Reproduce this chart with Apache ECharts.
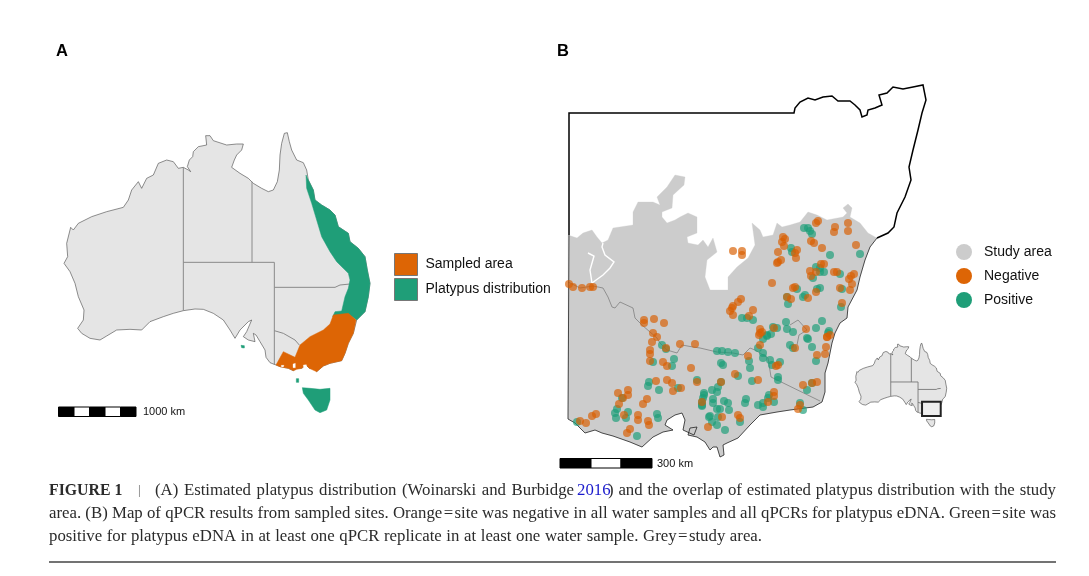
<!DOCTYPE html>
<html>
<head>
<meta charset="utf-8">
<script src="https://cdn.jsdelivr.net/npm/echarts@6/dist/echarts.min.js"></script>
<style>
  html, body { margin: 0; padding: 0; background: #fff; }
  #chart { width: 1089px; height: 576px; }
</style>
</head>
<body>
<div id="chart"></div>
<script>
// panel A outlines, map units (0-1110 across, 0-930 down)
const australiaCoast = [[430,142],[445,150],[452,155],[442,140],[448,120],[458,110],[460,95],[475,80],[500,75],[497,47],[510,47],[520,62],[560,75],[590,72],[610,72],[605,90],[590,105],[583,120],[575,142],[600,160],[625,175],[640,190],[665,205],[685,215],[700,210],[712,185],[718,150],[720,105],[725,70],[733,40],[742,38],[748,65],[755,90],[770,120],[790,128],[800,150],[805,180],[820,210],[825,240],[845,255],[870,270],[885,285],[895,320],[925,340],[930,365],[955,385],[975,410],[982,450],[990,490],[985,530],[975,575],[950,600],[940,640],[925,670],[915,700],[905,722],[870,730],[850,738],[830,755],[825,745],[808,745],[798,735],[785,745],[770,745],[760,752],[745,745],[720,740],[708,735],[690,728],[678,712],[675,690],[660,665],[648,645],[640,640],[645,665],[625,660],[610,650],[620,635],[635,600],[625,605],[600,630],[585,655],[570,630],[550,600],[520,580],[490,568],[465,567],[430,572],[400,580],[370,590],[330,605],[305,630],[270,628],[230,630],[200,648],[180,660],[150,655],[125,640],[113,625],[130,600],[132,570],[115,530],[105,490],[90,455],[72,430],[83,410],[80,370],[92,322],[100,330],[115,310],[155,290],[200,275],[250,262],[265,240],[275,210],[295,185],[305,205],[320,175],[340,165],[355,130],[380,120],[400,125],[415,145]];
const tasmania = [[787,803],[810,805],[840,808],[870,805],[870,840],[860,870],[840,878],[825,870],[805,840],[790,820]];
const stateBorders = [
  [[430,142],[430,572]],
  [[636,185],[636,427]],
  [[430,427],[703,427],[703,735]],
  [[703,502],[885,502],[900,495],[930,492]],
  [[703,632],[730,640],[765,660],[778,675]]
];
const platypusMainland = [[798,165],[805,180],[820,210],[825,240],[845,255],[870,270],[885,285],[895,320],[925,340],[930,365],[955,385],[975,410],[982,450],[990,490],[985,530],[975,575],[950,600],[925,582],[900,585],[878,590],[885,575],[905,573],[915,530],[925,505],[930,480],[925,460],[890,425],[870,395],[845,350],[830,300],[815,250],[800,205]];
const kingIsland = [[769,776],[776,776],[776,787],[769,787]];
const kangarooIsland = [[603,676],[613,677],[613,684],[605,683]];
const sampledArea = [[880,585],[925,580],[948,600],[940,640],[925,670],[915,700],[905,722],[870,730],[850,738],[830,755],[808,745],[798,735],[785,745],[770,748],[760,752],[745,745],[720,740],[708,735],[730,695],[765,712],[780,675],[810,650],[850,630],[870,612]];
const sampledHoles = [
  [[724,736],[732,736],[730,741],[724,740]],
  [[759,732],[766,730],[766,743],[759,743]],
  [[790,735],[799,734],[800,742],[791,743]]
];
const insetBox = [[743,625],[930,625],[930,769],[743,769]];

// panel B outlines, page units
const studyTopEdge = [[568,235],[577,238],[583,233],[592,230],[597,237],[602,243],[608,240],[613,228],[633,225],[633,212],[638,202],[653,202],[660,205],[657,197],[667,187],[675,175],[685,177],[684,185],[673,195],[672,208],[662,212],[662,217],[667,223],[675,220],[680,217],[688,213],[697,217],[697,233],[687,237],[688,243],[698,245],[703,240],[708,247],[713,238],[717,252],[707,260],[705,277],[710,290],[728,290],[728,277],[737,267],[748,258],[755,245],[752,223],[760,230],[763,237],[773,235],[777,223],[782,227],[790,225],[800,222],[808,212],[817,215],[827,220],[843,217],[847,213],[843,208],[848,204],[852,208],[850,217],[860,223],[868,233],[875,237]];
const southCoast = [[877,238],[870,247],[865,260],[860,277],[857,290],[848,307],[847,318],[840,323],[835,333],[832,343],[828,363],[825,373],[825,392],[822,402],[813,407],[790,410],[777,412],[760,415],[750,425],[738,438],[727,443],[723,445],[724,455],[720,457],[717,447],[713,447],[710,450],[705,442],[697,437],[688,435],[690,428],[697,427],[694,435],[683,430],[685,420],[682,413],[675,415],[667,420],[665,425],[673,430],[663,432],[653,437],[642,447],[630,442],[613,436],[602,433],[595,430],[585,433],[580,428],[575,423],[568,419]];
const northBoundary = [[569,235],[569,113],[794,113],[795,108],[800,102],[808,98],[815,100],[823,97],[832,96],[838,101],[850,101],[855,105],[860,110],[862,117],[867,115],[868,110],[875,108],[882,105],[879,95],[887,93],[893,87],[903,89],[913,87],[923,85],[926,100],[922,113],[918,130],[913,150],[909,167],[911,180],[905,197],[897,213],[894,227],[888,233],[877,238]];
const westBoundary = [[569,235],[568,419]];
const riverGaps = [
  [[588,253],[594,256],[590,270],[592,283]],
  [[592,283],[603,275],[610,268],[614,262],[605,255],[602,247],[603,243]]
];
const innerBorders = [
  [[568,282],[580,288],[593,286],[603,288],[608,297],[612,307],[615,308],[620,302],[633,308],[635,318],[642,325],[650,332],[657,338],[660,343],[667,350],[677,353],[682,345],[693,347],[700,348],[717,352],[733,353],[743,355],[750,348],[755,350],[768,358],[771,377],[820,401]],
  [[790,325],[798,320],[807,330],[799,335],[797,345]]
];

const negativeSites = [[569,284],[573,287],[582,288],[590,287],[593,287],[644,320],[644,323],[654,319],[664,323],[653,333],[657,337],
  [816,223],[818,221],[835,227],[834,232],[848,223],[848,231],[856,245],[733,251],[742,251],[742,255],[783,237],[785,239],[782,242],[784,246],[778,252],[797,250],[795,253],[796,258],[781,260],[778,262],[777,263],[811,241],[814,243],[822,248],[821,264],[824,264],[810,271],[816,272],[811,276],[834,272],[837,272],[772,283],[795,287],[793,288],[840,288],[854,274],[851,276],[849,279],[852,284],[850,290],[816,292],[787,297],[791,299],[808,298],[842,303],[741,299],[738,302],[733,306],[732,308],[730,311],[733,315],[753,310],[749,316],[760,329],[762,332],[759,335],[774,328],[806,329],[827,337],[830,335],
  [652,342],[666,348],[680,344],[695,344],[650,350],[650,354],[650,361],[663,362],[667,366],[691,368],[656,381],[667,380],[672,383],[697,382],[681,388],[673,391],[628,390],[618,393],[628,395],[623,398],[619,404],[647,399],[643,404],[596,414],[592,416],[580,421],[586,423],[624,415],[638,415],[638,420],[648,421],[649,425],[630,429],[627,433],[708,427],
  [760,333],[760,345],[748,356],[778,365],[776,366],[758,380],[735,374],[721,382],[702,402],[722,417],[738,415],[740,418],[774,392],[774,396],[768,402],[803,385],[812,383],[817,382],[800,405],[798,409],[795,348],[827,337],[826,347],[825,354],[817,355]];
const positiveSites = [[804,228],[808,228],[810,231],[812,234],[791,248],[792,252],[830,255],[860,254],[816,267],[820,268],[820,272],[824,272],[813,278],[840,274],[797,289],[817,289],[820,288],[842,289],[805,295],[803,297],[787,297],[788,304],[841,307],[742,318],[747,318],[753,320],[786,322],[773,327],[777,328],[787,329],[793,332],[822,321],[816,328],[829,331],[767,336],[771,334],[807,338],
  [662,345],[666,349],[674,359],[672,366],[653,362],[649,382],[648,386],[659,390],[678,388],[697,380],[704,393],[702,402],[702,406],[622,398],[617,409],[615,413],[628,412],[616,418],[626,418],[657,414],[658,418],[577,422],[637,436],[709,417],
  [717,351],[722,351],[728,352],[735,353],[721,363],[723,365],[749,361],[750,368],[758,348],[763,353],[763,358],[770,360],[772,365],[780,362],[778,377],[778,380],[752,381],[738,376],[721,382],[718,387],[712,390],[717,392],[704,395],[703,398],[702,405],[713,399],[713,403],[724,401],[728,403],[746,399],[745,403],[729,410],[717,409],[720,409],[710,416],[712,422],[717,425],[718,417],[725,430],[740,422],[769,395],[768,398],[774,402],[763,403],[758,405],[763,407],[800,403],[803,410],[807,390],[812,383],[816,361],[767,335],[763,339],[793,348],[790,345],[808,339],[812,347],[828,333]];

const legendAreaNames = ['Sampled area', 'Platypus distribution'];
const legendSiteNames = ['Study area', 'Negative', 'Positive'];

const ORANGE = '#d95f02';
const GREEN = '#1b9e77';
const LAND = '#e5e5e5';
const STUDY = '#cccccc';

// one custom series per group of outlines, all placed through the axes
function shapes(name, axis, rings, style, z) {
  return {
    type: 'custom',
    name: name,
    coordinateSystem: 'cartesian2d',
    xAxisIndex: axis,
    yAxisIndex: axis,
    silent: true,
    z: z,
    itemStyle: { color: style.fill === 'none' ? style.stroke : style.fill },
    data: rings.map(r => r[0]),
    renderItem: function (params, api) {
      return {
        type: style.fill === 'none' ? 'polyline' : 'polygon',
        shape: { points: rings[params.dataIndex].map(p => api.coord(p)) },
        style: { fill: style.fill, stroke: style.stroke, lineWidth: style.width }
      };
    }
  };
}

function sites(name, list, color, z) {
  return {
    type: 'scatter', name: name, xAxisIndex: 2, yAxisIndex: 2, silent: true, z: z,
    symbolSize: 8, data: list, itemStyle: { color: color, opacity: 0.68 }
  };
}

function mapAxes(xMax, yMax, index) {
  return {
    x: { type: 'value', gridIndex: index, min: 0, max: xMax, show: false },
    y: { type: 'value', gridIndex: index, min: 0, max: yMax, inverse: true, show: false }
  };
}
const axesA = mapAxes(1110, 930, 0);
const axesInset = mapAxes(1110, 930, 1);
const axesB = mapAxes(1089, 576, 2);

const SERIF = '"Liberation Serif", serif';
const SANS = '"Liberation Sans", Arial, sans-serif';
const captionFont = '16.8px ' + SERIF;
const captionFill = '#2b2b2b';

function caption(x, y, text, extra) {
  return { type: 'text', x: x, y: y, silent: true, style: Object.assign({ text: text, fill: captionFill, font: captionFont, textVerticalAlign: 'middle' }, extra || {}) };
}
// the caption is justified in the reference, so words are spread between x0 and x1
const measureCtx = document.createElement('canvas').getContext('2d');
function justified(x0, x1, y, text) {
  measureCtx.font = captionFont;
  const words = text.split(' ');
  const widths = words.map(w => measureCtx.measureText(w).width);
  const gap = (x1 - x0 - widths.reduce((a, b) => a + b, 0)) / (words.length - 1);
  let x = x0;
  return words.map((w, i) => {
    const item = caption(x, y, w);
    x += widths[i] + gap;
    return item;
  });
}
function bar(x, y, w, h, fill) {
  return { type: 'rect', shape: { x: x, y: y, width: w, height: h }, silent: true, style: { fill: fill, stroke: '#000', lineWidth: 1 } };
}

const chart = echarts.init(document.getElementById('chart'));
chart.setOption({
  animation: false,
  backgroundColor: '#fff',
  grid: [
    { left: 40, top: 120, width: 370, height: 310 },
    { left: 847.8, top: 339.6, width: 110.9, height: 92.3 },
    { left: 0, top: 0, width: 1089, height: 576 }
  ],
  xAxis: [axesA.x, axesInset.x, axesB.x],
  yAxis: [axesA.y, axesInset.y, axesB.y],
  legend: [
    {
      left: 394, top: 253, padding: 0, orient: 'vertical', itemWidth: 23, itemHeight: 22, itemGap: 2, selectedMode: false,
      textStyle: { fontFamily: SANS, fontSize: 14, color: '#111', padding: [0, 0, 0, 3] },
      data: [
        { name: legendAreaNames[0], icon: 'rect', itemStyle: { color: '#dd6505', borderColor: '#777', borderWidth: 1 } },
        { name: legendAreaNames[1], icon: 'rect', itemStyle: { color: '#1f9e78', borderColor: '#777', borderWidth: 1 } }
      ]
    },
    {
      left: 956, top: 244, padding: 0, orient: 'vertical', itemWidth: 16, itemHeight: 16, itemGap: 8, selectedMode: false,
      textStyle: { fontFamily: SANS, fontSize: 14, color: '#111', padding: [0, 0, 0, 7] },
      data: [
        { name: legendSiteNames[0], icon: 'circle', itemStyle: { color: STUDY, opacity: 1 } },
        { name: legendSiteNames[1], icon: 'circle', itemStyle: { color: '#dd6505', opacity: 1 } },
        { name: legendSiteNames[2], icon: 'circle', itemStyle: { color: '#1f9e78', opacity: 1 } }
      ]
    }
  ],
  series: [
    // panel A
    shapes('landA', 0, [australiaCoast], { fill: LAND, stroke: '#444', width: 0.6 }, 1),
    shapes('statesA', 0, stateBorders, { fill: 'none', stroke: '#8a8a8a', width: 1 }, 2),
    shapes(legendAreaNames[1], 0, [platypusMainland, tasmania, kingIsland, kangarooIsland], { fill: '#1f9e78', stroke: '#1f9e78', width: 0.5 }, 3),
    shapes(legendAreaNames[0], 0, [sampledArea], { fill: '#dd6505', stroke: '#dd6505', width: 0.5 }, 4),
    shapes('holesA', 0, sampledHoles, { fill: '#fff', stroke: '#fff', width: 0.3 }, 5),
    // inset
    shapes('landInset', 1, [australiaCoast, tasmania], { fill: LAND, stroke: '#444', width: 0.6 }, 1),
    shapes('statesInset', 1, stateBorders, { fill: 'none', stroke: '#777', width: 0.9 }, 2),
    shapes('boxInset', 1, [insetBox], { fill: '#eeeeee', stroke: '#222', width: 2 }, 3),
    // panel B
    shapes(legendSiteNames[0], 2, [studyTopEdge.concat(southCoast)], { fill: STUDY, stroke: STUDY, width: 0.3 }, 1),
    shapes('riversB', 2, riverGaps, { fill: 'none', stroke: '#fff', width: 1.4 }, 2),
    shapes('bordersB', 2, innerBorders, { fill: 'none', stroke: '#666', width: 0.6 }, 3),
    shapes('coastB', 2, [southCoast, westBoundary], { fill: 'none', stroke: '#222', width: 0.8 }, 3),
    shapes('northB', 2, [northBoundary], { fill: 'none', stroke: '#000', width: 1.5 }, 3),
    sites(legendSiteNames[2], positiveSites, GREEN, 5),
    sites(legendSiteNames[1], negativeSites, ORANGE, 6)
  ],
  graphic: [
    { type: 'text', x: 56, y: 51, silent: true, style: { text: 'A', fill: '#000', font: 'bold 16.5px ' + SANS, textVerticalAlign: 'middle' } },
    { type: 'text', x: 557, y: 51, silent: true, style: { text: 'B', fill: '#000', font: 'bold 16.5px ' + SANS, textVerticalAlign: 'middle' } },
    bar(58.5, 407, 15.5, 9.5, '#000'), bar(74, 407, 15.5, 9.5, '#fff'), bar(89.5, 407, 15.5, 9.5, '#000'), bar(105, 407, 15.5, 9.5, '#fff'), bar(120.5, 407, 15.5, 9.5, '#000'),
    { type: 'text', x: 143, y: 412, silent: true, style: { text: '1000 km', fill: '#111', font: '11px ' + SANS, textVerticalAlign: 'middle' } },
    bar(560, 458.5, 31, 9.5, '#000'), bar(591, 458.5, 30, 9.5, '#fff'), bar(621, 458.5, 31, 9.5, '#000'),
    { type: 'text', x: 657, y: 464, silent: true, style: { text: '300 km', fill: '#111', font: '11px ' + SANS, textVerticalAlign: 'middle' } },
    caption(49, 491, 'FIGURE 1', { font: 'bold 15.8px ' + SERIF }),
    caption(138, 491, '|', { font: '13px ' + SERIF, fill: '#666' }),
    ...justified(155, 574, 491, '(A) Estimated platypus distribution (Woinarski and Burbidge'),
    caption(577, 491, '2016', { fill: '#1a1acc' }),
    ...justified(608, 1056, 491, ') and the overlap of estimated platypus distribution with the study'),
    ...justified(49, 1056, 514, 'area. (B) Map of qPCR results from sampled sites. Orange\u200a=\u200asite was negative in all water samples and all qPCRs for platypus eDNA. Green\u200a=\u200asite was'),
    ...justified(49, 762, 537, 'positive for platypus eDNA in at least one qPCR replicate in at least one water sample. Grey\u200a=\u200astudy area.'),
    { type: 'line', shape: { x1: 49, y1: 562, x2: 1056, y2: 562 }, silent: true, style: { stroke: '#444', lineWidth: 1.4 } }
  ]
});
</script>
</body>
</html>
